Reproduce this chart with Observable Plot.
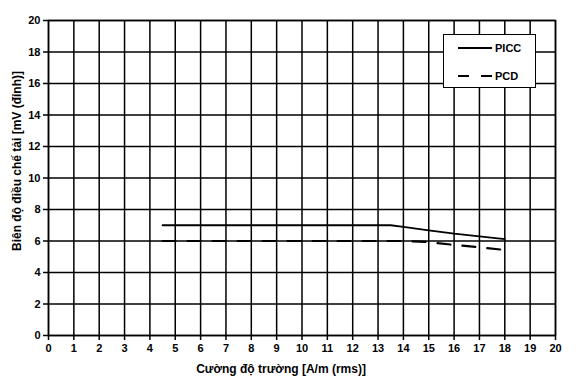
<!DOCTYPE html>
<html>
<head>
<meta charset="utf-8">
<script src="https://cdn.jsdelivr.net/npm/d3@7"></script>
<script src="https://cdn.jsdelivr.net/npm/@observablehq/plot@0.6"></script>
<style>
  html, body { margin: 0; padding: 0; background: #fff; }
  #wrap { position: relative; width: 576px; height: 386px; font-family: "Liberation Sans", Arial, sans-serif; }
  #legend { position: absolute; left: 443px; top: 34px; width: 93px; height: 54px; border: 1.5px solid #000; background: #fff; box-sizing: border-box; }
</style>
</head>
<body>
<div id="wrap"></div>
<script>
const fieldStrength = [4.5, 13.5, 14, 15, 16, 17, 18];
const piccValues = [7.0, 7.0, 6.9, 6.68, 6.47, 6.3, 6.12];
const pcdValues = [6.0, 6.0, 6.0, 5.93, 5.75, 5.6, 5.43];
const seriesNames = ["PICC", "PCD"];
const xTicks = d3.range(0, 21, 1);
const yTicks = d3.range(0, 21, 2);
const xLabel = "Cường độ trường [A/m (rms)]";
const yLabel = "Biên độ điều chế tải [mV (đỉnh)]";

const picc = fieldStrength.map((x, i) => ({x, y: piccValues[i]}));
const pcd = fieldStrength.map((x, i) => ({x, y: pcdValues[i]}));

const chart = Plot.plot({
  width: 576,
  height: 386,
  marginLeft: 48,
  marginRight: 21,
  marginTop: 20,
  marginBottom: 51,
  style: {fontFamily: "Liberation Sans, Arial, sans-serif", fontSize: "11px", fontWeight: "bold", color: "#000", background: "#fff"},
  x: {domain: [0, 20], ticks: xTicks, tickFormat: d => d, label: null},
  y: {domain: [0, 20], ticks: yTicks, tickFormat: d => d, label: null},
  marks: [
    Plot.gridX(xTicks, {stroke: "#000", strokeOpacity: 1, strokeWidth: 1.5}),
    Plot.gridY(yTicks, {stroke: "#000", strokeOpacity: 1, strokeWidth: 1.5}),
    Plot.frame({stroke: "#000", strokeWidth: 1.5}),
    Plot.axisX({ticks: xTicks, tickSize: 5, tickPadding: 4, stroke: "#000", strokeWidth: 1.5, fontWeight: "bold", fontSize: 11, label: null}),
    Plot.axisY({ticks: yTicks, tickSize: 5, tickPadding: 3, stroke: "#000", strokeWidth: 1.5, fontWeight: "bold", fontSize: 11, label: null}),
    Plot.lineY(picc, {x: "x", y: "y", stroke: "#000", strokeWidth: 1.8}),
    Plot.lineY(pcd, {x: "x", y: "y", stroke: "#000", strokeWidth: 2.2, strokeDasharray: "13,12"}),
    Plot.text([xLabel], {frameAnchor: "bottom", textAnchor: "middle", dx: -21, dy: 37, text: d => d, fontSize: 12, fontWeight: "bold"}),
    Plot.text([yLabel], {frameAnchor: "left", textAnchor: "middle", dx: -31, dy: -17, rotate: -90, text: d => d, fontSize: 12, fontWeight: "bold"})
  ]
});
const wrap = document.getElementById("wrap");
wrap.appendChild(chart);

const legend = document.createElement("div");
legend.id = "legend";
legend.innerHTML = `<svg width="93" height="54" style="position:absolute;left:0;top:0;overflow:visible">
  <line x1="14" x2="48" y1="13" y2="13" stroke="#000" stroke-width="2"/>
  <text x="51" y="17" font-size="11" font-weight="bold" font-family="Liberation Sans, Arial, sans-serif">${seriesNames[0]}</text>
  <line x1="14" x2="48" y1="41" y2="41" stroke="#000" stroke-width="2.2" stroke-dasharray="11,12"/>
  <text x="51" y="45" font-size="11" font-weight="bold" font-family="Liberation Sans, Arial, sans-serif">${seriesNames[1]}</text>
</svg>`;
wrap.appendChild(legend);
</script>
</body>
</html>
